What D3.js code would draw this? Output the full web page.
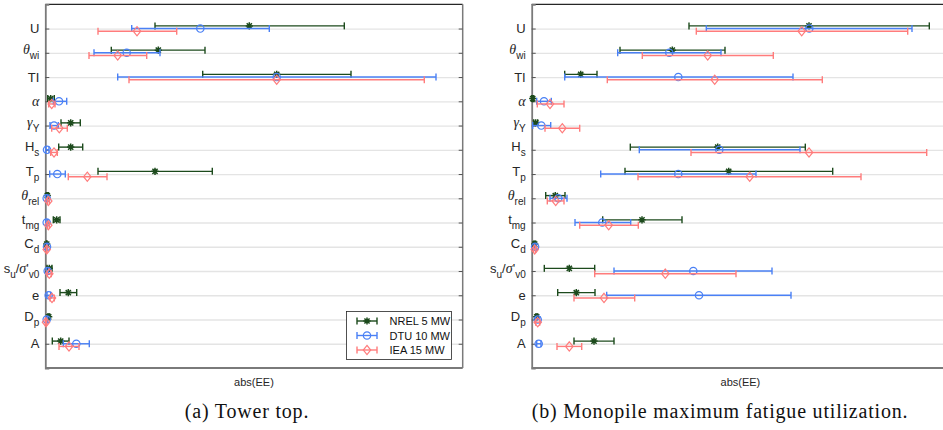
<!DOCTYPE html>
<html>
<head>
<meta charset="utf-8">
<script src="https://cdn.jsdelivr.net/npm/d3@7"></script>
<style>
body { margin: 0; background: #fff; overflow: hidden; }
svg { display: block; }
</style>
</head>
<body>
<div id="chart"></div>
<script>
// Parameters, top to bottom. Each label is a list of [text, kind]
// kind: n = normal, g = greek (italic), s = subscript
const paramLabels = [
	[["U", "n"]],
	[["θ", "g"], ["wi", "s"]],
	[["TI", "n"]],
	[["α", "g"]],
	[["γ", "g"], ["Y", "s"]],
	[["H", "n"], ["s", "s"]],
	[["T", "n"], ["p", "s"]],
	[["θ", "g"], ["rel", "s"]],
	[["t", "n"], ["mg", "s"]],
	[["C", "n"], ["d", "s"]],
	[["s", "n"], ["u", "s"], ["/", "n"], ["σ", "g"], ["'", "n"], ["v0", "s"]],
	[["e", "n"]],
	[["D", "n"], ["p", "s"]],
	[["A", "n"]]
];

const seriesNames = ["NREL 5 MW", "DTU 10 MW", "IEA 15 MW"];

// abs(EE) as [lower, mean, upper], arbitrary units (no tick labels in the source)
const towerNrel = [
	[1.097, 2.040, 2.990], [0.660, 1.130, 1.597], [1.574, 2.314, 3.057], [0.024, 0.054, 0.090],
	[0.157, 0.254, 0.350], [0.134, 0.254, 0.374], [0.527, 1.097, 1.670], [0.010, 0.020, 0.030],
	[0.080, 0.114, 0.147], [0.010, 0.014, 0.018], [0.017, 0.040, 0.067], [0.147, 0.230, 0.314],
	[0.024, 0.034, 0.044], [0.070, 0.154, 0.237]
];
const towerDtu = [
	[0.864, 1.550, 2.240], [0.487, 0.814, 1.147], [0.724, 2.314, 3.907], [0.080, 0.137, 0.214],
	[0.047, 0.087, 0.130], [0.004, 0.017, 0.037], [0.044, 0.120, 0.200], [0.004, 0.014, 0.024],
	[0.004, 0.014, 0.024], [0.011, 0.017, 0.023], [0.014, 0.024, 0.034], [0.017, 0.034, 0.054],
	[0.004, 0.014, 0.024], [0.180, 0.310, 0.440]
];
const towerIea = [
	[0.527, 0.917, 1.314], [0.437, 0.724, 1.014], [0.837, 2.314, 3.790], [0.034, 0.064, 0.097],
	[0.064, 0.140, 0.220], [0.054, 0.087, 0.120], [0.230, 0.420, 0.617], [0.020, 0.030, 0.040],
	[0.020, 0.030, 0.040], [0.010, 0.014, 0.018], [0.020, 0.040, 0.060], [0.047, 0.067, 0.090],
	[0.000, 0.007, 0.014], [0.137, 0.237, 0.337]
];

const pileNrel = [
	[1.573, 2.773, 3.976], [0.883, 1.406, 1.933], [0.330, 0.490, 0.653], [0.000, 0.010, 0.020],
	[0.020, 0.040, 0.060], [0.986, 1.860, 2.736], [0.933, 1.970, 3.010], [0.140, 0.236, 0.333],
	[0.710, 1.103, 1.503], [0.020, 0.030, 0.040], [0.126, 0.376, 0.630], [0.260, 0.446, 0.633],
	[0.040, 0.050, 0.060], [0.423, 0.623, 0.823]
];
const pileDtu = [
	[1.746, 2.776, 3.803], [0.860, 1.376, 1.893], [0.330, 1.466, 2.613], [0.050, 0.123, 0.196],
	[0.010, 0.096, 0.190], [1.076, 1.876, 2.683], [0.690, 1.466, 2.243], [0.183, 0.266, 0.353],
	[0.433, 0.706, 0.990], [0.024, 0.034, 0.044], [0.823, 1.616, 2.403], [0.750, 1.673, 2.593],
	[0.040, 0.060, 0.080], [0.050, 0.070, 0.093]
];
const pileIea = [
	[1.646, 2.700, 3.760], [1.106, 1.760, 2.416], [0.756, 1.830, 2.906], [0.056, 0.183, 0.323],
	[0.133, 0.306, 0.480], [1.593, 2.773, 3.950], [1.063, 2.180, 3.293], [0.156, 0.240, 0.323],
	[0.480, 0.770, 1.066], [0.020, 0.030, 0.040], [0.630, 1.336, 2.043], [0.423, 0.723, 1.030],
	[0.040, 0.060, 0.080], [0.253, 0.376, 0.500]
];

const colors = ["#1c4a1c", "#4a80f5", "#ff7c7c"];
const rowShift = [-0.11, 0, 0.11];

const panels = [
	{left: 45.3, capX: 247, data: [towerNrel, towerDtu, towerIea], caption: "(a) Tower top.", legend: true},
	{left: 531.7, capX: 720, data: [pileNrel, pileDtu, pileIea], caption: "(b) Monopile maximum fatigue utilization.", legend: false}
];

const W = 943, H = 430;
const plotTop = 4.3, plotH = 363.7, plotW = 417.4;

const svg = d3.select("#chart").append("svg")
	.attr("width", W)
	.attr("height", H)
	.style("font-family", "'Liberation Sans', Arial, sans-serif");

const x = d3.scaleLinear().domain([0, 4.174]).range([0, plotW]);
const y = d3.scaleLinear().domain([0, 15]).range([0, plotH]);
const rows = d3.range(1, 15);

function asterisk(s) {
	const d = s * 0.72;
	return `M${-s},0L${s},0M0,${-s}L0,${s}M${-d},${-d}L${d},${d}M${-d},${d}L${d},${-d}`;
}

function drawMarker(g, k, color) {
	if (k == 0) {
		g.append("path").attr("d", asterisk(3.6))
			.attr("stroke", color).attr("stroke-width", 1.5).attr("fill", "none");
	} else if (k == 1) {
		g.append("circle").attr("r", 3.7)
			.attr("stroke", color).attr("stroke-width", 1.2).attr("fill", "none");
	} else {
		g.append("path").attr("d", "M0,-4.6L3.7,0L0,4.6L-3.7,0Z")
			.attr("stroke", color).attr("stroke-width", 1.2).attr("fill", "none");
	}
}

panels.forEach(function(p) {
	const g = svg.append("g").attr("transform", `translate(${p.left},${plotTop})`);

	// grid lines
	g.append("g")
		.call(d3.axisLeft(y).tickValues(rows).tickSize(-plotW).tickFormat(""))
		.call(s => s.select(".domain").remove())
		.call(s => s.selectAll("line").attr("stroke", "#e4e4e4").attr("stroke-width", 1.3));

	// axis frame
	g.append("line").attr("x1", 0).attr("x2", plotW).attr("y1", 0).attr("y2", 0)
		.attr("stroke", "#262626").attr("stroke-width", 1.2);
	g.append("line").attr("x1", 0).attr("x2", plotW).attr("y1", plotH).attr("y2", plotH)
		.attr("stroke", "#7a7a7a").attr("stroke-width", 1.8);
	g.append("line").attr("x1", plotW).attr("x2", plotW).attr("y1", 0).attr("y2", plotH)
		.attr("stroke", "#7a7a7a").attr("stroke-width", 1.5);

	// inner ticks, left and right
	g.append("g")
		.call(d3.axisLeft(y).tickValues(rows).tickSize(-4).tickFormat(""))
		.call(s => s.select(".domain").attr("stroke", "#7a7a7a").attr("stroke-width", 1.8))
		.call(s => s.selectAll(".tick line").attr("stroke", "#555"));
	g.append("g").attr("transform", `translate(${plotW},0)`)
		.call(d3.axisRight(y).tickValues(rows).tickSize(-4).tickFormat(""))
		.call(s => s.select(".domain").remove())
		.call(s => s.selectAll(".tick line").attr("stroke", "#555"));

	// tick labels
	paramLabels.forEach(function(lab, i) {
		const hasSub = lab.some(d => d[1] == "s");
		const t = g.append("text")
			.attr("x", -6)
			.attr("y", y(i + 1) + (hasSub ? 1.5 : 4.6))
			.attr("text-anchor", "end")
			.attr("fill", "#262626")
			.style("font-size", "13px");
		let shifted = false;
		lab.forEach(function(seg) {
			const ts = t.append("tspan").text(seg[0]);
			if (seg[1] == "s") {
				ts.style("font-size", "10px").attr("dy", shifted ? 0 : 5);
				shifted = true;
			} else {
				if (shifted) ts.attr("dy", -5);
				shifted = false;
				if (seg[1] == "g") {
					ts.style("font-family", "'Liberation Serif', serif").style("font-style", "italic")
						.style("font-size", "14px");
				}
			}
		});
	});

	// error bars
	p.data.forEach(function(series, k) {
		const sg = g.append("g");
		series.forEach(function(v, i) {
			const yy = y(i + 1 + rowShift[k]);
			sg.append("line")
				.attr("x1", x(v[0])).attr("x2", x(v[2]))
				.attr("y1", yy).attr("y2", yy)
				.attr("stroke", colors[k]).attr("stroke-width", 1.4);
			[v[0], v[2]].forEach(function(c) {
				sg.append("line")
					.attr("x1", x(c)).attr("x2", x(c))
					.attr("y1", yy - 3.5).attr("y2", yy + 3.5)
					.attr("stroke", colors[k]).attr("stroke-width", 1.4);
			});
			const m = sg.append("g").attr("transform", `translate(${x(v[1])},${yy})`);
			drawMarker(m, k, colors[k]);
		});
	});

	// x label
	g.append("text")
		.attr("x", plotW / 2)
		.attr("y", plotH + 18)
		.attr("text-anchor", "middle")
		.attr("fill", "#262626")
		.style("font-size", "11px")
		.text("abs(EE)");

	// legend
	if (p.legend) {
		const lg = g.append("g").attr("transform", `translate(${346.5 - p.left},${311.5 - plotTop})`);
		lg.append("rect").attr("width", 105).attr("height", 48)
			.attr("fill", "#fff").attr("stroke", "#262626").attr("stroke-width", 0.8);
		seriesNames.forEach(function(name, k) {
			const ly = 9.5 + k * 14.5;
			lg.append("line").attr("x1", 10.5).attr("x2", 30.5).attr("y1", ly).attr("y2", ly)
				.attr("stroke", colors[k]).attr("stroke-width", 1.4);
			[10.5, 30.5].forEach(function(c) {
				lg.append("line").attr("x1", c).attr("x2", c).attr("y1", ly - 3.5).attr("y2", ly + 3.5)
					.attr("stroke", colors[k]).attr("stroke-width", 1.4);
			});
			drawMarker(lg.append("g").attr("transform", `translate(20.5,${ly})`), k, colors[k]);
			lg.append("text").attr("x", 43).attr("y", ly + 4)
				.attr("fill", "#111")
				.style("font-size", "11px")
				.text(name);
		});
	}

	// caption under the panel
	svg.append("text")
		.attr("x", p.capX)
		.attr("y", 418)
		.attr("text-anchor", "middle")
		.attr("fill", "#111")
		.style("font-family", "'Liberation Serif', 'Times New Roman', serif")
		.style("font-size", "20px")
		.style("letter-spacing", "0.8px")
		.text(p.caption);
});
</script>
</body>
</html>
